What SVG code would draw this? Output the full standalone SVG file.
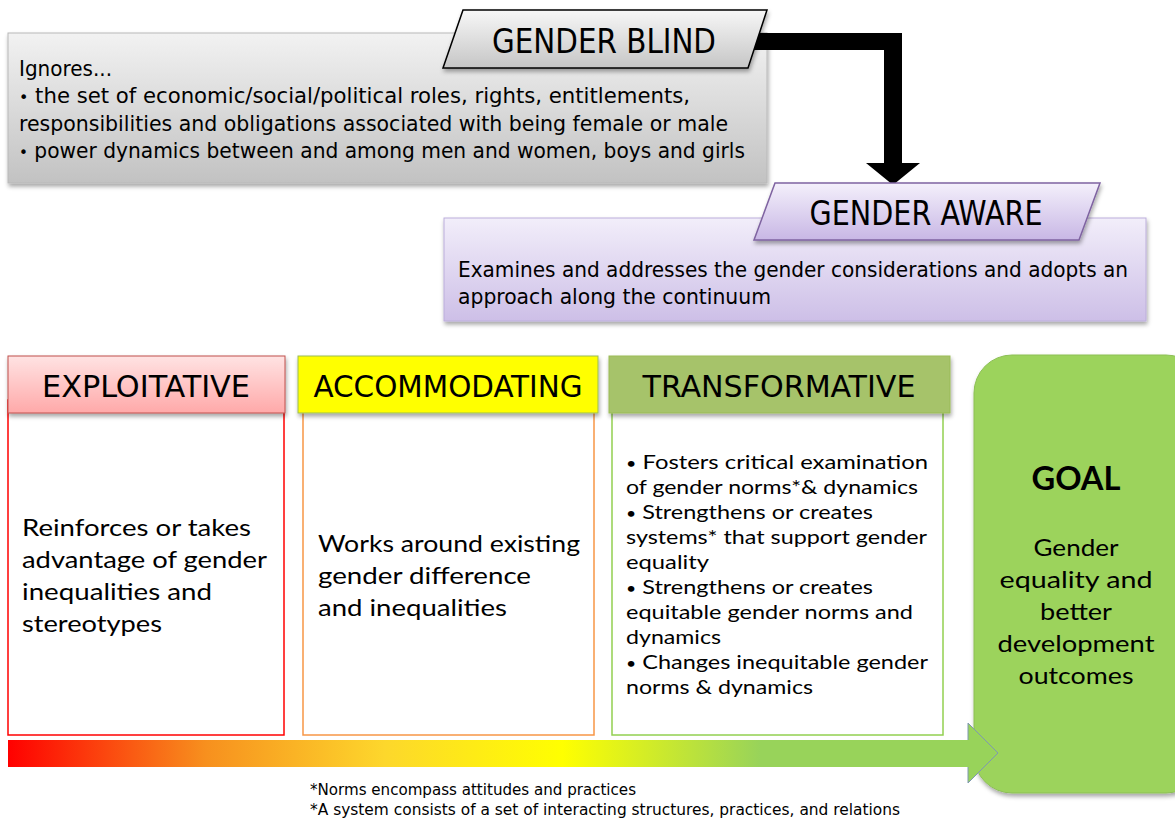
<svg xmlns="http://www.w3.org/2000/svg" width="1175" height="821" viewBox="0 0 1175 821">
<style>
.cond{font-family:"DejaVu Sans Condensed","DejaVu Sans","Liberation Sans",sans-serif;fill:#000}
.hd{font-size:31px}
.hb{font-size:34px}
.tx{font-size:22px}
.body{font-family:Lato,"Open Sans","Liberation Sans",sans-serif;fill:#000;font-size:24px}
.tb{font-family:Lato,"Open Sans","Liberation Sans",sans-serif;fill:#000;font-size:20px}
.fn{font-size:15px}
.bl{font-size:0.75em}
</style>
<defs>
<filter id="sh" x="-5%" y="-5%" width="115%" height="120%">
<feDropShadow dx="1" dy="3" stdDeviation="2" flood-color="#000" flood-opacity="0.35"/>
</filter>
<linearGradient id="gGray" x1="0" y1="0" x2="0" y2="1">
<stop offset="0" stop-color="#f2f2f2"/><stop offset="1" stop-color="#c2c2c2"/>
</linearGradient>
<linearGradient id="gGrayP" x1="0" y1="0" x2="0" y2="1">
<stop offset="0" stop-color="#f7f7f7"/><stop offset="1" stop-color="#c6c6c6"/>
</linearGradient>
<linearGradient id="gPur" x1="0" y1="0" x2="0" y2="1">
<stop offset="0" stop-color="#f2eefa"/><stop offset="1" stop-color="#cdbfe7"/>
</linearGradient>
<linearGradient id="gPurP" x1="0" y1="0" x2="0" y2="1">
<stop offset="0" stop-color="#f4f0fb"/><stop offset="1" stop-color="#c8b7e5"/>
</linearGradient>
<linearGradient id="gPink" x1="0" y1="0" x2="0" y2="1">
<stop offset="0" stop-color="#ffe3e3"/><stop offset="1" stop-color="#ffa9a9"/>
</linearGradient>
<linearGradient id="gArrow" x1="8" y1="0" x2="998" y2="0" gradientUnits="userSpaceOnUse">
<stop offset="0" stop-color="#ff0000"/>
<stop offset="0.2" stop-color="#f7901e"/>
<stop offset="0.38" stop-color="#fdd72c"/>
<stop offset="0.56" stop-color="#ffff00"/>
<stop offset="0.76" stop-color="#98d35a"/>
<stop offset="1" stop-color="#98d35a"/>
</linearGradient>
</defs>

<g id="blind-box">
<rect x="8" y="33" width="759" height="150" fill="url(#gGray)" stroke="#b8b8b8" stroke-width="1" filter="url(#sh)"/>
<text class="cond tx" x="19" y="76" textLength="93" lengthAdjust="spacingAndGlyphs">Ignores...</text>
<text class="cond tx" x="19" y="103" textLength="671" lengthAdjust="spacingAndGlyphs"><tspan class="bl">•</tspan> the set of economic/social/political  roles, rights, entitlements,</text>
<text class="cond tx" x="19" y="131" textLength="709" lengthAdjust="spacingAndGlyphs">responsibilities and obligations associated with being female or male</text>
<text class="cond tx" x="19" y="158" textLength="726" lengthAdjust="spacingAndGlyphs"><tspan class="bl">•</tspan> power dynamics between and among men and women, boys and girls</text>
</g>

<g id="connectors">
<polygon points="750,33 902,33 902,163 920,163 893,185 866,163 884,163 884,50 750,50" fill="#000"/>
</g>

<g id="gender-blind">
<polygon points="463,10 767,10 748,68 443,68" fill="url(#gGrayP)" stroke="#000" stroke-width="1.5" filter="url(#sh)"/>
<text class="cond hb" x="604" y="53" text-anchor="middle" textLength="224" lengthAdjust="spacingAndGlyphs">GENDER BLIND</text>
</g>

<g id="aware-box">
<rect x="444" y="218" width="702" height="103" fill="url(#gPur)" stroke="#bcaedb" stroke-width="1" filter="url(#sh)"/>
<text class="cond tx" x="458" y="277" textLength="670" lengthAdjust="spacingAndGlyphs">Examines and addresses the gender considerations and adopts an</text>
<text class="cond tx" x="458" y="304" textLength="313" lengthAdjust="spacingAndGlyphs">approach along the continuum</text>
</g>

<g id="gender-aware">
<polygon points="775,183 1100,183 1079,240 754,240" fill="url(#gPurP)" stroke="#7f63a1" stroke-width="1.5" filter="url(#sh)"/>
<text class="cond hb" x="926" y="225" text-anchor="middle" textLength="233" lengthAdjust="spacingAndGlyphs">GENDER AWARE</text>
</g>

<g id="exploitative">
<rect x="8" y="400" width="276" height="335" fill="#fff" stroke="#ff0000" stroke-width="1.5"/>
<rect x="8" y="356" width="277" height="57" fill="url(#gPink)" stroke="#c0504d" stroke-width="1" filter="url(#sh)"/>
<text class="cond hd" x="146" y="397" text-anchor="middle" textLength="208" lengthAdjust="spacingAndGlyphs">EXPLOITATIVE</text>
<text class="body" x="22" y="536" textLength="229" lengthAdjust="spacingAndGlyphs">Reinforces or takes</text>
<text class="body" x="22" y="568" textLength="245" lengthAdjust="spacingAndGlyphs">advantage of gender</text>
<text class="body" x="22" y="600" textLength="190" lengthAdjust="spacingAndGlyphs">inequalities and</text>
<text class="body" x="22" y="632" textLength="140" lengthAdjust="spacingAndGlyphs">stereotypes</text>
</g>

<g id="accommodating">
<rect x="303" y="400" width="291" height="335" fill="#fff" stroke="#f79646" stroke-width="1.5"/>
<rect x="298" y="356" width="300" height="57" fill="#ffff00" stroke="#9bbb59" stroke-width="1" filter="url(#sh)"/>
<text class="cond hd" x="448" y="397" text-anchor="middle" textLength="269" lengthAdjust="spacingAndGlyphs">ACCOMMODATING</text>
<text class="body" x="318" y="552" textLength="262" lengthAdjust="spacingAndGlyphs">Works around existing</text>
<text class="body" x="318" y="584" textLength="213" lengthAdjust="spacingAndGlyphs">gender difference</text>
<text class="body" x="318" y="616" textLength="189" lengthAdjust="spacingAndGlyphs">and inequalities</text>
</g>

<g id="transformative">
<rect x="612" y="400" width="331" height="335" fill="#fff" stroke="#92d050" stroke-width="1.5"/>
<rect x="609" y="356" width="341" height="57" fill="#a6c36a" stroke="#9bbb59" stroke-width="1" filter="url(#sh)"/>
<text class="cond hd" x="779" y="397" text-anchor="middle" textLength="273" lengthAdjust="spacingAndGlyphs">TRANSFORMATIVE</text>
<text class="tb" x="626" y="469" textLength="302" lengthAdjust="spacingAndGlyphs"><tspan class="bl">•</tspan> Fosters critical examination</text>
<text class="tb" x="626" y="494" textLength="292" lengthAdjust="spacingAndGlyphs">of gender norms*&amp; dynamics</text>
<text class="tb" x="626" y="519" textLength="247" lengthAdjust="spacingAndGlyphs"><tspan class="bl">•</tspan> Strengthens or creates</text>
<text class="tb" x="626" y="544" textLength="301" lengthAdjust="spacingAndGlyphs">systems* that support gender</text>
<text class="tb" x="626" y="569" textLength="83" lengthAdjust="spacingAndGlyphs">equality</text>
<text class="tb" x="626" y="594" textLength="247" lengthAdjust="spacingAndGlyphs"><tspan class="bl">•</tspan> Strengthens or creates</text>
<text class="tb" x="626" y="619" textLength="287" lengthAdjust="spacingAndGlyphs">equitable gender norms and</text>
<text class="tb" x="626" y="644" textLength="95" lengthAdjust="spacingAndGlyphs">dynamics</text>
<text class="tb" x="626" y="669" textLength="302" lengthAdjust="spacingAndGlyphs"><tspan class="bl">•</tspan> Changes inequitable gender</text>
<text class="tb" x="626" y="694" textLength="187" lengthAdjust="spacingAndGlyphs">norms &amp; dynamics</text>
</g>

<g id="goal">
<rect x="974" y="355" width="230" height="438" rx="38" fill="#9cd35c" stroke="#8cbf55" stroke-width="1" filter="url(#sh)"/>
<text x="1076" y="490" text-anchor="middle" font-family="Lato,'Open Sans','Liberation Sans',sans-serif" font-weight="bold" font-size="32" textLength="89" lengthAdjust="spacingAndGlyphs">GOAL</text>
<text class="body" x="1076" y="556" text-anchor="middle" textLength="85" lengthAdjust="spacingAndGlyphs">Gender</text>
<text class="body" x="1076" y="588" text-anchor="middle" textLength="153" lengthAdjust="spacingAndGlyphs">equality and</text>
<text class="body" x="1076" y="620" text-anchor="middle" textLength="72" lengthAdjust="spacingAndGlyphs">better</text>
<text class="body" x="1076" y="652" text-anchor="middle" textLength="157" lengthAdjust="spacingAndGlyphs">development</text>
<text class="body" x="1076" y="684" text-anchor="middle" textLength="115" lengthAdjust="spacingAndGlyphs">outcomes</text>
</g>

<g id="continuum-arrow">
<polygon points="8,740 968,740 968,723 998,753 968,783 968,767 8,767" fill="url(#gArrow)"/>
<polyline points="968,740 968,723 998,753 968,783 968,767" fill="none" stroke="#7f98b0" stroke-width="1"/>
</g>

<g id="footnotes">
<text class="cond fn" x="310" y="795" textLength="326" lengthAdjust="spacingAndGlyphs">*Norms encompass attitudes and practices</text>
<text class="cond fn" x="310" y="815" textLength="590" lengthAdjust="spacingAndGlyphs">*A system consists of a set of interacting structures, practices, and relations</text>
</g>
</svg>
